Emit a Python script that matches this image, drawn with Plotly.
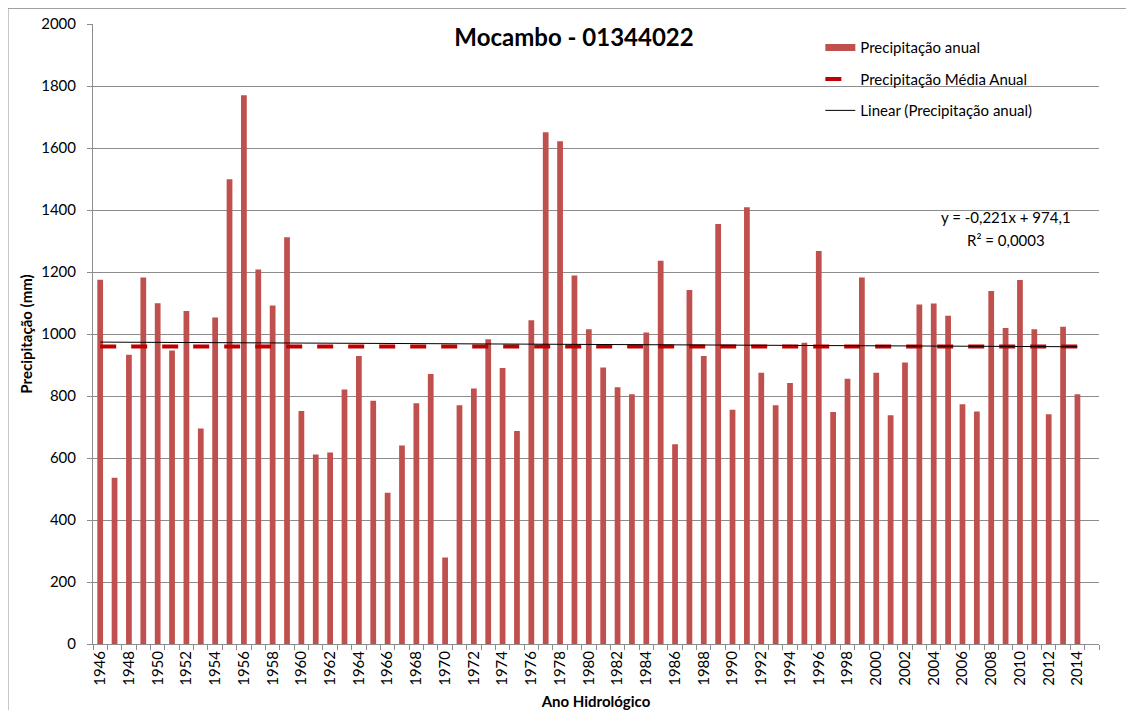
import plotly.graph_objects as go

# Ano hidrológico (1946-2015, 2015 sem dado)
anos = list(range(1946, 2016))

precip_anual = [
    1175, 536, 933, 1182, 1099, 947, 1074, 695, 1053, 1499,
    1770, 1208, 1092, 1312, 752, 611, 618, 821, 929, 785,
    488, 640, 777, 871, 279, 770, 824, 983, 890, 687,
    1044, 1651, 1622, 1189, 1015, 892, 828, 806, 1005, 1236,
    644, 1142, 929, 1355, 756, 1409, 875, 770, 842, 972,
    1268, 748, 856, 1182, 875, 738, 908, 1095, 1098, 1059,
    773, 750, 1139, 1019, 1174, 1015, 741, 1023, 806, None,
]

media_anual = 960

# linha de tendência do Excel: y = a*x + b, x = 1..n
trend_a = -0.221
trend_b = 974.1
trend_label = "y = -0,221x + 974,1"
r2_label = "R² = 0,0003"

anos_com_dado = [a for a, v in zip(anos, precip_anual) if v is not None]
n = len(anos_com_dado)
trend_x = [anos_com_dado[0], anos_com_dado[-1]]
trend_y = [trend_a * 1 + trend_b, trend_a * n + trend_b]

FONT = "Lato"
GRID = "#8C8C8C"
BAR = "#C0504D"

fig = go.Figure()

fig.add_trace(go.Bar(
    x=anos, y=precip_anual, name="Precipitação anual",
    marker=dict(color=BAR, line=dict(width=0)),
    showlegend=False,
))
# entrada de legenda com amostra retangular larga, como no Excel
fig.add_trace(go.Scatter(
    x=[None], y=[None], mode="lines", name="Precipitação anual",
    line=dict(color=BAR, width=7), legendgroup="a",
))
fig.add_trace(go.Scatter(
    x=anos, y=[media_anual] * len(anos), mode="lines",
    name="Precipitação Média Anual",
    line=dict(color="#C00000", width=4, dash="16px,15px"),
    legendgroup="b",
))
fig.add_trace(go.Scatter(
    x=trend_x, y=trend_y, mode="lines",
    name="Linear (Precipitação anual)",
    line=dict(color="black", width=1),
    legendgroup="c",
))

fig.update_layout(
    width=1118, height=702,
    margin=dict(l=85, r=27, t=16, b=66),
    paper_bgcolor="white", plot_bgcolor="white",
    font=dict(family=FONT, size=15, color="black"),
    bargap=0.6,
    showlegend=True,
    title=dict(text="<b>Mocambo - 01344022</b>", x=(574 - 8) / 1118, xanchor="center",
               y=1 - 30 / 702, yanchor="middle",
               font=dict(family=FONT, size=24, color="black")),
    legend=dict(x=0.723, y=0.9885, xanchor="left", yanchor="top",
                bgcolor="rgba(0,0,0,0)", borderwidth=0,
                tracegroupgap=9, traceorder="grouped",
                font=dict(family=FONT, size=15)),
    xaxis=dict(
        range=[1945.5, 2015.5],
        tickvals=[a for a in anos if a % 2 == 0 and a <= 2014],
        ticks="", tickangle=-90,
        showgrid=False, showline=True, linecolor=GRID, linewidth=1,
        minor=dict(tickvals=[a - 0.5 for a in anos] + [anos[-1] + 0.5],
                   ticks="outside", ticklen=5, tickcolor=GRID, showgrid=False),
        title=dict(text="<b>Ano Hidrológico</b>", standoff=17,
                   font=dict(family=FONT, size=15)),
        tickfont=dict(family=FONT, size=15),
        automargin=False,
    ),
    yaxis=dict(
        range=[0, 2000], dtick=200,
        ticks="outside", ticklen=5, tickcolor=GRID,
        showgrid=True, gridcolor=GRID, gridwidth=1,
        showline=True, linecolor=GRID, linewidth=1,
        zeroline=False,
        ticklabelstandoff=8,
        title=dict(text="<b>Precipitação (mm)</b>", standoff=4,
                   font=dict(family=FONT, size=15)),
        tickfont=dict(family=FONT, size=15),
        automargin=False,
    ),
    annotations=[
        dict(text=trend_label, x=0.9076, y=0.6882, xref="paper", yref="paper",
             showarrow=False, xanchor="center", yanchor="middle",
             font=dict(family=FONT, size=15)),
        dict(text=r2_label, x=0.9076, y=0.6511, xref="paper", yref="paper",
             showarrow=False, xanchor="center", yanchor="middle",
             font=dict(family=FONT, size=15)),
    ],
    shapes=[
        dict(type="rect", xref="paper", yref="paper",
             x0=-0.0845, x1=1.05, y0=-0.15, y1=1.0253,
             line=dict(color=GRID, width=1), fillcolor="rgba(0,0,0,0)"),
    ],
)

fig.write_html("out.html")
